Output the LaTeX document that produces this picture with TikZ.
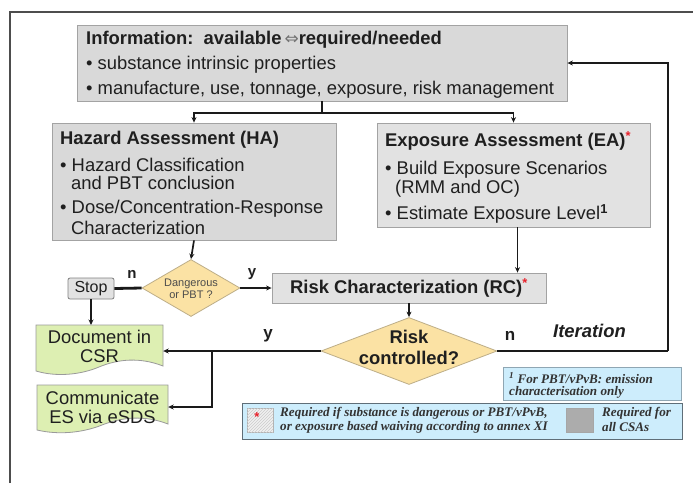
\documentclass[tikz,border=0pt]{standalone}
\usepackage{fontspec}
\setmainfont{Liberation Sans}
\newfontfamily\lgfont{Liberation Serif}
\newfontfamily\symfont{DejaVu Sans}
\usetikzlibrary{shapes.geometric,arrows.meta,patterns}
\definecolor{txt}{HTML}{1F1F1F}
\definecolor{boxgray}{HTML}{D9D9D9}
\definecolor{eagray}{HTML}{E2E2E2}
\definecolor{boxline}{HTML}{A3A3A3}
\definecolor{dfill}{HTML}{FBE2A4}
\definecolor{dline}{HTML}{BDAE88}
\definecolor{gfill}{HTML}{DDEFB2}
\definecolor{gline}{HTML}{9A9A9A}
\definecolor{bfill}{HTML}{CDEDFC}
\definecolor{bline}{HTML}{8FA6B3}
\definecolor{bline2}{HTML}{5F6E78}
\definecolor{lgtxt}{HTML}{333333}
\definecolor{frame}{HTML}{4D4D4D}
\definecolor{ln}{HTML}{1A1A1A}
\definecolor{redstar}{HTML}{E8202A}
\begin{document}
\begin{tikzpicture}[x=1pt,y=-1pt,
  gbox/.style={rectangle,draw=boxline,fill=boxgray,line width=0.8pt,inner sep=0pt},
  dshape/.style={diamond,draw=dline,fill=dfill,line width=0.8pt,inner sep=0pt},
  docshape/.style={draw=gline,fill=gfill,line width=0.8pt},
  main/.style={inner sep=0pt,anchor=base west,text=txt,font=\fontsize{18.4}{19}\selectfont},
  mainb/.style={main,font=\fontsize{18.4}{19}\selectfont\bfseries},
  ctext/.style={inner sep=0pt,text=txt,align=center},
  lbl/.style={inner sep=0pt,text=txt,font=\fontsize{16}{16}\selectfont\bfseries},
  lg/.style={inner sep=0pt,anchor=west,text=lgtxt,font=\fontsize{13.1}{14}\selectfont\lgfont\bfseries\itshape},
  conn/.style={draw=ln,line width=1.7pt},
  arr/.style={conn,-{Stealth[length=5.5pt,width=5pt]}}
]
\useasboundingbox (0,0) rectangle (693,483);
\fill[white] (0,0) rectangle (693,483);
% outer frame (partly cut)
\draw[frame,line width=1.5pt] (10,483) -- (10,12) -- (693,12);

% Information box
\node[gbox,minimum width=490,minimum height=76] (info) at (322,63) {};
\node[mainb] (info1) at (86,44.5) {Information:\ \ available\,{\symfont\mdseries\color{black!55}\fontsize{17}{17}\selectfont ⇔}required/needed};
\node[main] (info2) at (86,69.5) {• substance intrinsic properties};
\node[main] (info3) at (86,94.5) {• manufacture, use, tonnage, exposure, risk management};

% Hazard assessment
\node[gbox,minimum width=284,minimum height=117] (ha) at (194,181.5) {};
\node[mainb] (ha1) at (60,144.5) {Hazard Assessment (HA)};
\node[main] (ha2) at (60,171.5) {• Hazard Classification};
\node[main] (ha3) at (71,189.5) {and PBT conclusion};
\node[main] (ha4) at (60,213.5) {• Dose/Concentration-Response};
\node[main] (ha5) at (71,234.5) {Characterization};

% Exposure assessment
\node[gbox,fill=eagray,minimum width=273,minimum height=104] (ea) at (513.5,175) {};
\node[mainb] (ea1) at (385,146.5) {Exposure Assessment (EA)\textsuperscript{\color{redstar}*}};
\node[main] (ea2) at (385,174.5) {• Build Exposure Scenarios};
\node[main] (ea3) at (395,193.5) {(RMM and OC)};
\node[main] (ea4) at (385,219.5) {• Estimate Exposure Level\textsuperscript{\bfseries 1}};

% Stop
\node[rectangle,rounded corners=2pt,draw=gray,fill=eagray,line width=0.8pt,minimum width=46,minimum height=21,inner sep=0pt,text=txt,font=\fontsize{16}{16}\selectfont] (stop) at (91,288.5) {Stop};

% Dangerous diamond
\node[dshape,minimum width=98,minimum height=57] (dang) at (191,288) {};
\node[ctext,text=black!70,font=\fontsize{11}{12}\selectfont] (dangt) at (191,289) {Dangerous\\or PBT ?};

% Risk characterization
\node[gbox,fill=eagray,minimum width=274,minimum height=30,font=\fontsize{18.4}{19}\selectfont\bfseries,text=txt] (rc) at (409,288) {Risk Characterization (RC)\textsuperscript{\color{redstar}*}};

% Risk controlled diamond
\node[dshape,minimum width=176,minimum height=67] (risk) at (409,351) {};
\node[ctext,font=\fontsize{18.4}{21}\selectfont\bfseries] (riskt) at (409,347) {Risk\\controlled?};

% Document in CSR
\draw[docshape] (36,325) -- (163,325) -- (163,366)
  .. controls (140,357) and (118,359) .. (99,367)
  .. controls (80,375) and (56,377) .. (36,371) -- cycle;
\node[ctext,minimum width=127,font=\fontsize{18.4}{19}\selectfont] (doc) at (99.5,346) {Document in\\CSR};

% Communicate ES via eSDS
\draw[docshape] (37,385) -- (168,385) -- (168,424)
  .. controls (145,415) and (122,417) .. (102,425)
  .. controls (82,433) and (58,435) .. (37,430) -- cycle;
\node[ctext,minimum width=131,font=\fontsize{18.4}{19}\selectfont] (comm) at (102.5,407) {Communicate\\ES via eSDS};

% connectors
\coordinate (split) at (322,113);
\coordinate (itc) at (668,351);
\coordinate (br) at (212,351);
\coordinate (docTop) at (91,325);
\draw[conn] (info.south) -- (split);
\draw[arr] (split) -| (ha.north);
\draw[arr] (split) -| (ea.north);
\draw[arr] (ha.south) -- (dang.north);
\draw[arr] ([xshift=4pt]ea.south) -- ([xshift=4pt]ea.south |- rc.north);
\draw[draw=ln,line width=2.8pt] (dang.west) -- (stop.east);
\draw[arr] (dang.east) -- (rc.west);
\draw[arr] (stop.south) -- (docTop);
\draw[arr] (rc.south) -- (risk.north);
\draw[arr] (risk.west) -- (risk.west -| doc.east);
\draw[arr] (br) |- (comm.east);
\draw[conn] (risk.east) -- (itc);
\draw[arr] (itc) |- (info.east);

% labels
\node[lbl,font=\fontsize{15}{15}\selectfont\bfseries] (ln1) at (132,274) {n};
\node[lbl,font=\fontsize{15}{15}\selectfont\bfseries] (ly1) at (252,274) {y};
\node[lbl,font=\fontsize{17}{17}\selectfont\bfseries] (ly2) at (268,336) {y};
\node[lbl,font=\fontsize{17}{17}\selectfont\bfseries] (ln2) at (510,336) {n};
\node[inner sep=0pt,anchor=west,text=txt,font=\fontsize{18.4}{18}\selectfont\bfseries\itshape] (iter) at (553,331) {Iteration};

% footnote box
\node[rectangle,draw=bline,fill=bfill,line width=0.8pt,minimum width=178,minimum height=33,inner sep=0pt] (fn) at (592,383.5) {};
\node[lg] (fn1) at (509,378) {\textsuperscript{1} For PBT/vPvB: emission};
\node[lg] (fn2) at (509,392) {characterisation only};

% legend box
\node[rectangle,draw=bline2,fill=bfill,line width=1pt,minimum width=440,minimum height=36,inner sep=0pt] (leg) at (462,421) {};
\node[rectangle,draw=gray!60,fill=gray!12,minimum width=26,minimum height=24,inner sep=0pt] (sq1) at (260,420) {};
\fill[pattern=north east lines,pattern color=gray!40] (247,408) rectangle (273,432);
\node[inner sep=0pt,text=redstar,font=\fontsize{13}{13}\selectfont\bfseries] (star) at (257,417) {*};
\node[lg] (lg1) at (280,413) {Required if substance is dangerous or PBT/vPvB,};
\node[lg] (lg2) at (280,427) {or exposure based waiving according to annex XI};
\node[rectangle,draw=gray!70,fill=gray!65,minimum width=27,minimum height=24,inner sep=0pt] (sq2) at (579.5,420) {};
\node[lg] (lg3) at (602,413) {Required for};
\node[lg] (lg4) at (602,427) {all CSAs};
\end{tikzpicture}
\end{document}
